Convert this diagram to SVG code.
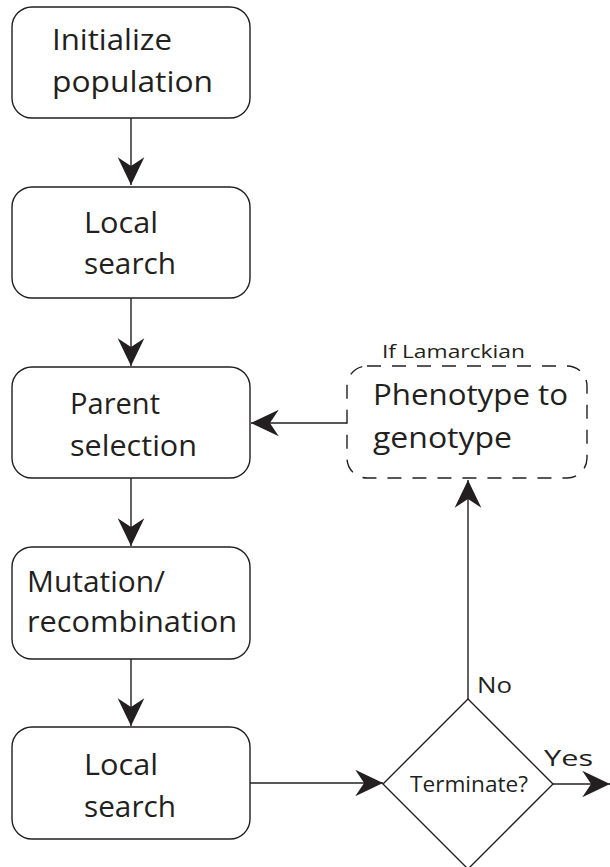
<svg xmlns="http://www.w3.org/2000/svg" width="610" height="867" viewBox="0 0 610 867">
<style>
.box{fill:#fff;stroke:#231f20;stroke-width:1.4}
.dash{fill:none;stroke:#231f20;stroke-width:1.4;stroke-dasharray:14 11}
.t{font-family:"Open Sans","Liberation Sans",sans-serif;font-size:30px;fill:#231f20}
.s{font-family:"Open Sans","Liberation Sans",sans-serif;font-size:19px;fill:#231f20}
.m{font-family:"Open Sans","Liberation Sans",sans-serif;font-size:22px;fill:#231f20}
.c{fill:none;stroke:#231f20;stroke-width:1.4}
</style>
<defs>
<marker id="ah" markerUnits="userSpaceOnUse" markerWidth="30" markerHeight="30" viewBox="-26 -13 27 26" refX="0" refY="0" orient="auto">
<path d="M0,0 L-25,-12 L-17,0 L-25,12 Z" fill="#231f20"/>
</marker>
</defs>
<g id="connectors">
<line class="c" x1="131" y1="118" x2="131" y2="185" marker-end="url(#ah)"/>
<line class="c" x1="131" y1="298" x2="131" y2="366" marker-end="url(#ah)"/>
<line class="c" x1="131" y1="478" x2="131" y2="546" marker-end="url(#ah)"/>
<line class="c" x1="131" y1="659" x2="131" y2="726" marker-end="url(#ah)"/>
<line class="c" x1="250" y1="783" x2="383" y2="783" marker-end="url(#ah)"/>
<line class="c" x1="553" y1="784" x2="610" y2="784" marker-end="url(#ah)"/>
<line class="c" x1="468" y1="699" x2="468" y2="480" marker-end="url(#ah)"/>
<line class="c" x1="347" y1="423" x2="251" y2="423" marker-end="url(#ah)"/>
</g>
<g id="n1">
<rect class="box" x="12" y="7" width="238" height="111" rx="20"/>
<text class="t" x="52" y="50" textLength="120" lengthAdjust="spacingAndGlyphs">Initialize</text>
<text class="t" x="52" y="92" textLength="161" lengthAdjust="spacingAndGlyphs">population</text>
</g>
<g id="n2">
<rect class="box" x="12" y="187" width="238" height="111" rx="20"/>
<text class="t" x="84" y="233" textLength="74" lengthAdjust="spacingAndGlyphs">Local</text>
<text class="t" x="84" y="274" textLength="92" lengthAdjust="spacingAndGlyphs">search</text>
</g>
<g id="n3">
<rect class="box" x="12" y="367" width="238" height="111" rx="20"/>
<text class="t" x="70" y="414" textLength="90" lengthAdjust="spacingAndGlyphs">Parent</text>
<text class="t" x="70" y="456" textLength="127" lengthAdjust="spacingAndGlyphs">selection</text>
</g>
<g id="n4">
<rect class="box" x="12" y="547" width="238" height="112" rx="20"/>
<text class="t" x="27" y="592" textLength="138" lengthAdjust="spacingAndGlyphs">Mutation/</text>
<text class="t" x="27" y="632" textLength="210" lengthAdjust="spacingAndGlyphs">recombination</text>
</g>
<g id="n5">
<rect class="box" x="12" y="727" width="238" height="112" rx="20"/>
<text class="t" x="84" y="775" textLength="74" lengthAdjust="spacingAndGlyphs">Local</text>
<text class="t" x="84" y="817" textLength="92" lengthAdjust="spacingAndGlyphs">search</text>
</g>
<g id="n6">
<rect class="dash" x="347" y="366" width="240" height="112" rx="20"/>
<text class="s" x="382" y="358" textLength="143" lengthAdjust="spacingAndGlyphs">If Lamarckian</text>
<text class="t" x="373" y="405" textLength="195" lengthAdjust="spacingAndGlyphs">Phenotype to</text>
<text class="t" x="373" y="448" textLength="139" lengthAdjust="spacingAndGlyphs">genotype</text>
</g>
<g id="n7">
<polygon class="box" points="468,699 553,784 468,869 383,784"/>
<text class="m" x="410" y="792" textLength="118" lengthAdjust="spacingAndGlyphs">Terminate?</text>
</g>
<g id="labels">
<text class="m" x="477" y="693" textLength="35" lengthAdjust="spacingAndGlyphs">No</text>
<text class="m" x="544" y="766" textLength="49" lengthAdjust="spacingAndGlyphs">Yes</text>
</g>
</svg>
